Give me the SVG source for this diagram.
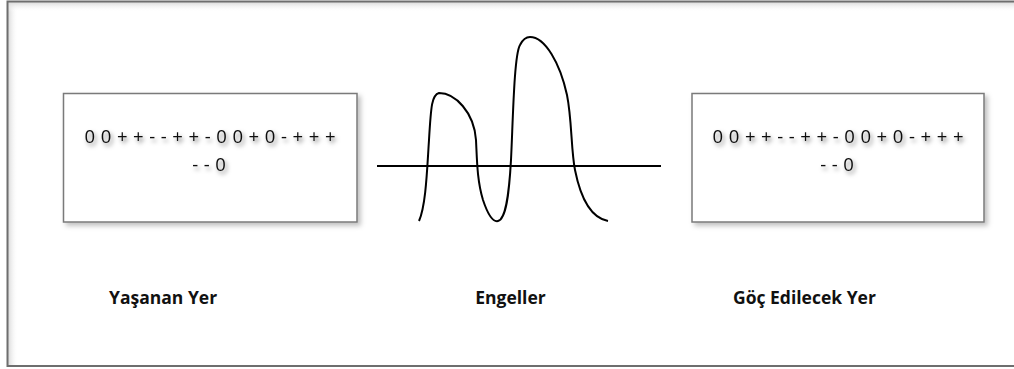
<svg xmlns="http://www.w3.org/2000/svg" width="1014" height="369" viewBox="0 0 1014 369">
<defs>
<filter id="ts" x="-10%" y="-50%" width="120%" height="200%">
<feDropShadow dx="2" dy="3" stdDeviation="2" flood-color="#000" flood-opacity="0.5"/>
</filter>
<filter id="bs" x="-5%" y="-10%" width="115%" height="125%">
<feDropShadow dx="3" dy="3" stdDeviation="2.5" flood-color="#000" flood-opacity="0.25"/>
</filter>
<linearGradient id="gl" x1="0" y1="0" x2="1" y2="0">
<stop offset="0" stop-color="#d8d8d8"/><stop offset="1" stop-color="#fff" stop-opacity="0"/>
</linearGradient>
<linearGradient id="gt" x1="0" y1="0" x2="0" y2="1">
<stop offset="0" stop-color="#d8d8d8"/><stop offset="1" stop-color="#fff" stop-opacity="0"/>
</linearGradient>
<style>
.box{fill:#fff;stroke:#7a7a7a;stroke-width:1.5}
.seq{font-family:"Open Sans","Liberation Sans",sans-serif;font-size:18.5px;letter-spacing:5.6px;fill:#111;text-anchor:middle}
.lbl{font-family:"Open Sans","Liberation Sans",sans-serif;font-size:17.5px;font-weight:700;fill:#111}
.ln{fill:none;stroke:#000;stroke-width:2}
</style>
</defs>
<rect width="1014" height="369" fill="#fff"/>
<g id="frame">
<rect x="8" y="2" width="10" height="363" fill="url(#gl)"/>
<rect x="8" y="2" width="1010" height="10" fill="url(#gt)"/>
<rect x="7.5" y="1.5" width="1012" height="364.5" fill="none" stroke="#6e6e6e" stroke-width="2"/>
</g>
<g id="node-yasanan">
<rect class="box" x="63.5" y="93.5" width="293.5" height="128.5" filter="url(#bs)"/>
<g filter="url(#ts)">
<text class="seq" x="212.8" y="142.5">00++--++-00+0-+++</text>
<text class="seq" x="211.8" y="171">--0</text>
</g>
</g>
<g id="node-goc">
<rect class="box" x="692" y="93.5" width="292" height="128.5" filter="url(#bs)"/>
<g filter="url(#ts)">
<text class="seq" x="840.8" y="142.5">00++--++-00+0-+++</text>
<text class="seq" x="839.8" y="171">--0</text>
</g>
</g>
<g id="node-engeller">
<line class="ln" x1="377" y1="166" x2="661" y2="166"/>
<path class="ln" d="M419,221 C426,205 427,170 429,140 C431,105 432,95 439,93 C455,93 474,112 476,140 C477,160 477,180 483,200 C489,218 494,222 498,221 C506,219 509,195 511,160 C513,120 514,55 520,45 C523,39 527,37 530,37 C545,37 560,63 567,95 C572,120 571,150 575,170 C581,200 592,218 608,221"/>
</g>
<g id="labels">
<text class="lbl" x="109" y="304">Yaşanan Yer</text>
<text class="lbl" x="510.5" y="304" text-anchor="middle">Engeller</text>
<text class="lbl" x="733" y="304">Göç Edilecek Yer</text>
</g>
</svg>
